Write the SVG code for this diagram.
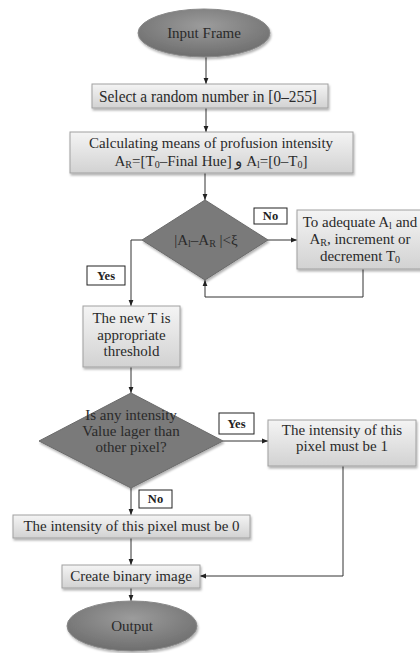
<svg xmlns="http://www.w3.org/2000/svg" width="420" height="653" viewBox="0 0 420 653">
<defs>
<linearGradient id="boxg" x1="0" y1="0" x2="0" y2="1">
<stop offset="0" stop-color="#f4f4f4"/>
<stop offset="1" stop-color="#d2d2d2"/>
</linearGradient>
<radialGradient id="ellg" cx="0.5" cy="0.35" r="0.7">
<stop offset="0" stop-color="#9c9c9c"/>
<stop offset="1" stop-color="#6a6a6a"/>
</radialGradient>
<filter id="sh" x="-10%" y="-10%" width="125%" height="130%">
<feDropShadow dx="1" dy="2" stdDeviation="1.2" flood-color="#000" flood-opacity="0.3"/>
</filter>
<marker id="ar" viewBox="0 0 10 10" refX="10" refY="5" markerWidth="6" markerHeight="6" orient="auto-start-reverse">
<path d="M0,1 L10,5 L0,9 z" fill="#222"/>
</marker>
</defs>
<style>
.box{fill:url(#boxg);stroke:#a0a0a0;stroke-width:1;filter:url(#sh)}
.ell{fill:url(#ellg);stroke:#888;stroke-width:1;filter:url(#sh)}
.dia{fill:#7a7a7a;stroke:#6a6a6a;stroke-width:1;filter:url(#sh)}
.lbl{fill:#fff;stroke:#222;stroke-width:1}
.t{font-family:"Liberation Serif","DejaVu Serif",serif;font-size:15px;fill:#2a2a2a;text-anchor:middle}
.tb{font-family:"Liberation Serif","DejaVu Serif",serif;font-size:12.5px;font-weight:bold;fill:#222;text-anchor:middle}
.c{fill:none;stroke:#333;stroke-width:1}
.s{font-size:10px}
</style>

<g id="connectors">
<line class="c" x1="206" y1="57" x2="206" y2="84" marker-end="url(#ar)"/>
<line class="c" x1="206" y1="108" x2="206" y2="132" marker-end="url(#ar)"/>
<line class="c" x1="205" y1="173" x2="205" y2="200" marker-end="url(#ar)"/>
<line class="c" x1="268" y1="240" x2="297" y2="240" marker-end="url(#ar)"/>
<polyline class="c" points="363,269 363,297 205,297 205,280" marker-end="url(#ar)"/>
<polyline class="c" points="142,240 131,240 131,306" marker-end="url(#ar)"/>
<line class="c" x1="131" y1="367" x2="131" y2="393" marker-end="url(#ar)"/>
<line class="c" x1="223" y1="441" x2="268" y2="441" marker-end="url(#ar)"/>
<line class="c" x1="131" y1="488" x2="131" y2="515" marker-end="url(#ar)"/>
<line class="c" x1="131" y1="538" x2="131" y2="565" marker-end="url(#ar)"/>
<polyline class="c" points="343,466 343,576 200,576" marker-end="url(#ar)"/>
<line class="c" x1="131" y1="588" x2="131" y2="601" marker-end="url(#ar)"/>
</g>

<g id="input">
<ellipse class="ell" cx="204" cy="33" rx="66" ry="24"/>
<text class="t" x="204" y="38">Input Frame</text>
</g>

<g id="select">
<rect class="box" x="92" y="84" width="236" height="24"/>
<text class="t" x="208" y="101.5" style="font-size:17px" textLength="218" lengthAdjust="spacingAndGlyphs">Select a random number in [0–255]</text>
</g>

<g id="calc">
<rect class="box" x="70" y="132" width="283" height="41"/>
<text class="t" x="211" y="148">Calculating means of profusion intensity</text>
<text class="t" x="211" y="166">A<tspan class="s" dy="2">R</tspan><tspan dy="-2">=[T</tspan><tspan class="s" dy="2">0</tspan><tspan dy="-2">–Final Hue]  و  A</tspan><tspan class="s" dy="2">l</tspan><tspan dy="-2">=[0–T</tspan><tspan class="s" dy="2">0</tspan><tspan dy="-2">]</tspan></text>
</g>

<g id="dec1">
<polygon class="dia" points="205,200 268,240 205,280 142,240"/>
<text class="t" x="206" y="245">|A<tspan class="s" dy="2">l</tspan><tspan dy="-2">–A</tspan><tspan class="s" dy="2">R</tspan><tspan dy="-2"> |&lt;ξ</tspan></text>
</g>

<g id="no1">
<rect class="lbl" x="254" y="208" width="33" height="16"/>
<text class="tb" x="270.5" y="220">No</text>
</g>

<g id="adjust">
<rect class="box" x="297" y="210" width="126" height="59"/>
<text class="t" x="360" y="227">To adequate A<tspan class="s" dy="2">l</tspan><tspan dy="-2"> and</tspan></text>
<text class="t" x="360" y="244">A<tspan class="s" dy="2">R</tspan><tspan dy="-2">, increment or</tspan></text>
<text class="t" x="360" y="261">decrement T<tspan class="s" dy="2">0</tspan></text>
</g>

<g id="yes1">
<rect class="lbl" x="87" y="266" width="38" height="19"/>
<text class="tb" x="106" y="280">Yes</text>
</g>

<g id="newT">
<rect class="box" x="83" y="306" width="97" height="61"/>
<text class="t" x="131.5" y="323">The new T is</text>
<text class="t" x="131.5" y="340">appropriate</text>
<text class="t" x="131.5" y="356">threshold</text>
</g>

<g id="dec2">
<polygon class="dia" points="131,393 223,441 131,488 39,441"/>
<text class="t" x="131" y="420">Is any intensity</text>
<text class="t" x="131" y="436">Value lager than</text>
<text class="t" x="131" y="452">other pixel?</text>
</g>

<g id="yes2">
<rect class="lbl" x="219" y="413" width="35" height="21"/>
<text class="tb" x="236.5" y="428">Yes</text>
</g>

<g id="one">
<rect class="box" x="268" y="420" width="148" height="46"/>
<text class="t" x="342" y="435">The intensity of this</text>
<text class="t" x="342" y="451">pixel must be 1</text>
</g>

<g id="no2">
<rect class="lbl" x="139" y="490" width="33" height="18"/>
<text class="tb" x="155.5" y="503">No</text>
</g>

<g id="zero">
<rect class="box" x="13" y="515" width="237" height="23"/>
<text class="t" x="131.5" y="531">The intensity of this pixel must be 0</text>
</g>

<g id="binary">
<rect class="box" x="62" y="565" width="138" height="23"/>
<text class="t" x="131" y="581">Create binary image</text>
</g>

<g id="output">
<ellipse class="ell" cx="132" cy="626" rx="65" ry="25"/>
<text class="t" x="132" y="631">Output</text>
</g>
</svg>
